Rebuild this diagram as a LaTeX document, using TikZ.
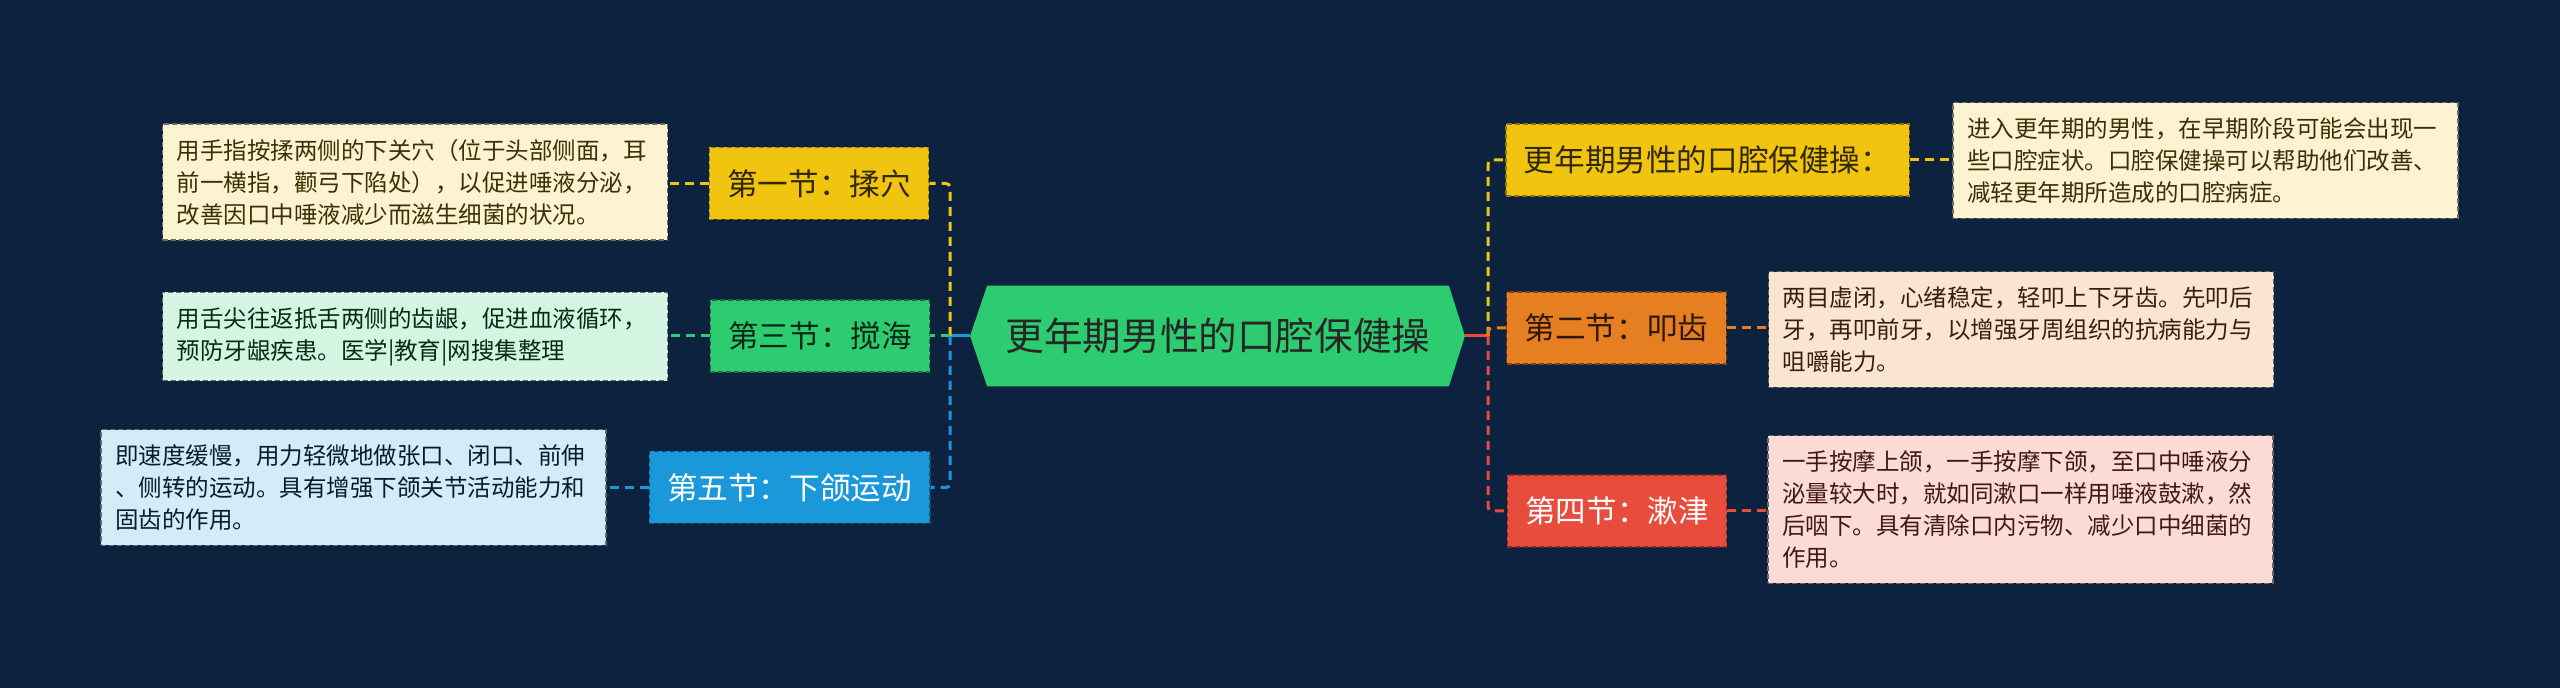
\documentclass[tikz,border=0pt]{standalone}
\usepackage{fontspec}
\setmainfont{Noto Sans CJK SC}
\usetikzlibrary{calc,backgrounds}
\definecolor{bg}{HTML}{0C223F}
\definecolor{cyel}{HTML}{F1C40F}
\definecolor{cgrn}{HTML}{2ECC71}
\definecolor{cblu}{HTML}{1A98DA}
\definecolor{corg}{HTML}{E67E22}
\definecolor{cred}{HTML}{E74C3C}
\definecolor{lyel}{HTML}{FCF3D2}
\definecolor{lgrn}{HTML}{D5F5E3}
\definecolor{lblu}{HTML}{D4EBF8}
\definecolor{lorg}{HTML}{FAE5D3}
\definecolor{lred}{HTML}{FADBD8}
\tikzset{
  conn/.style={line width=1.5pt, dash pattern=on 4.5pt off 3pt, rounded corners=2pt},
  trunk/.style={line width=1.5pt},
  topic/.style={font=\fontsize{15.3pt}{18pt}\selectfont, minimum height=36pt, inner xsep=9pt, inner ysep=0pt, line width=0.6pt, dash pattern=on 2.5pt off 1.5pt},
  desc/.style={font=\fontsize{11.75pt}{16pt}\selectfont, text width=238.5pt, inner xsep=7pt, inner ysep=7.5pt, align=left, line width=0.6pt, dash pattern=on 2.5pt off 1.5pt},
}
\begin{document}
\begin{tikzpicture}[x=0.5pt,y=-0.5pt]
\path[use as bounding box] (0,0) rectangle (2560,688);
% central
\node[font=\fontsize{19.3pt}{23pt}\selectfont, text=black!85, minimum width=230.5pt, minimum height=50pt, inner sep=0pt] (c) at (1218,336) {更年期男性的口腔保健操};
\coordinate (cl) at ($(c.west)+(-17,0)$);
\coordinate (cr) at ($(c.east)+(16,0)$);
\begin{scope}[on background layer]
\fill[bg] (0,0) rectangle (2560,688);
\fill[cgrn] (c.north west) -- (c.north east) -- (cr) -- (c.south east) -- (c.south west) -- (cl) -- cycle;
\end{scope}
\coordinate (L) at (950,336);
\coordinate (R) at (1488,336);
% left topics
\node[topic, fill=cyel, draw=cyel!60!black, text=black!80!cyel] (n1) at (819,183.5) {第一节：揉穴};
\node[topic, fill=cgrn, draw=cgrn!55!black, text=black!80!cgrn] (n3) at (820,336) {第三节：搅海};
\node[topic, fill=cblu, draw=cblu!55!black, text=white] (n5) at (789.5,487.5) {第五节：下颌运动};
% left descriptions
\node[desc, fill=lyel, draw=black!55!lyel, text=black!75!cyel] (d1) at (415,182) {用手指按揉两侧的下关穴（位于头部侧面，耳\\前一横指，颧弓下陷处），以促进唾液分泌，\\改善因口中唾液减少而滋生细菌的状况。};
\node[desc, fill=lgrn, draw=black!55!lgrn, text=black!80!cgrn] (d3) at (415,336.5) {用舌尖往返抵舌两侧的齿龈，促进血液循环，\\预防牙龈疾患。医学|教育|网搜集整理};
\node[desc, fill=lblu, draw=black!55!lblu, text=black!80!cblu] (d5) at (353.5,487.5) {即速度缓慢，用力轻微地做张口、闭口、前伸\\、侧转的运动。具有增强下颌关节活动能力和\\固齿的作用。};
% right topics
\node[topic, fill=cyel, draw=cyel!60!black, text=black!80!cyel] (r1) at (1707.5,160) {更年期男性的口腔保健操：};
\node[topic, fill=corg, draw=corg!55!black, text=black!80!corg] (r2) at (1616.5,328) {第二节：叩齿};
\node[topic, fill=cred, draw=cred!55!black, text=white] (r4) at (1617,511) {第四节：漱津};
% right descriptions
\node[desc, fill=lyel, draw=black!55!lyel, text=black!75!cyel] (e1) at (2205.5,160.5) {进入更年期的男性，在早期阶段可能会出现一\\些口腔症状。口腔保健操可以帮助他们改善、\\减轻更年期所造成的口腔病症。};
\node[desc, fill=lorg, draw=black!55!lorg, text=black!75!corg] (e2) at (2021,329.5) {两目虚闭，心绪稳定，轻叩上下牙齿。先叩后\\牙，再叩前牙，以增强牙周组织的抗病能力与\\咀嚼能力。};
\node[desc, fill=lred, draw=black!55!lred, text=black!70!cred] (e4) at (2020.5,509.5) {一手按摩上颌，一手按摩下颌，至口中唾液分\\泌量较大时，就如同漱口一样用唾液鼓漱，然\\后咽下。具有清除口内污物、减少口中细菌的\\作用。};
% trunks
\draw[trunk, cblu] (cl) -- (L);
\draw[trunk, cred] (cr) -- (R);
% left branches
\draw[conn, cyel] (L) |- (n1.east);
\draw[conn, cgrn] (L) -- (n3.east);
\draw[conn, cblu] (L) |- (n5.east);
% right branches
\draw[conn, cyel] (R) |- (r1.west);
\draw[conn, corg] (R) |- (r2.west);
\draw[conn, cred] (R) |- (r4.west);
% topic to description
\draw[conn, cyel] (n1.west) -- (n1.west -| d1.east);
\draw[conn, cgrn] (n3.west) -- (n3.west -| d3.east);
\draw[conn, cblu] (n5.west) -- (n5.west -| d5.east);
\draw[conn, cyel] (r1.east) -- (r1.east -| e1.west);
\draw[conn, corg] (r2.east) -- (r2.east -| e2.west);
\draw[conn, cred] (r4.east) -- (r4.east -| e4.west);
\end{tikzpicture}
\end{document}
